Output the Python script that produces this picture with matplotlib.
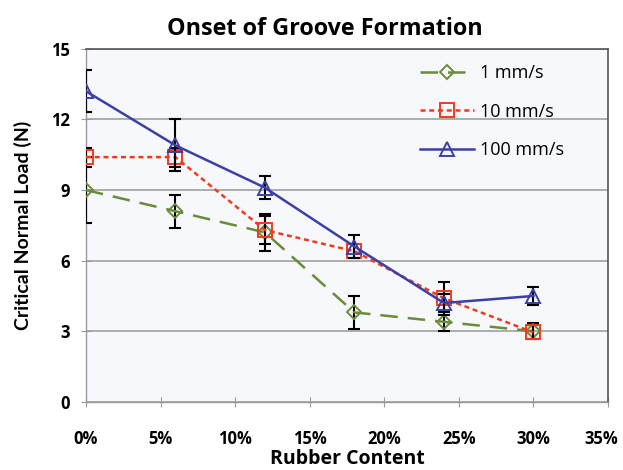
import matplotlib.pyplot as plt
import matplotlib.transforms as mtransforms
from matplotlib.ticker import FuncFormatter

plt.rcParams['font.family'] = ['Open Sans', 'DejaVu Sans']

# Rubber content (%)
rubber = [0, 6, 12, 18, 24, 30]

# Critical normal load (N) at each scratch speed, with error bar half-widths
load_1 = [9.0, 8.1, 7.2, 3.8, 3.4, 3.0]
err_1 = [1.4, 0.7, 0.8, 0.7, 0.4, 0.35]
load_10 = [10.4, 10.4, 7.3, 6.4, 4.4, 2.95]
err_10 = [0.4, 0.4, 0.6, 0.3, 0.7, 0.3]
load_100 = [13.2, 10.9, 9.1, 6.6, 4.2, 4.5]
err_100 = [0.9, 1.1, 0.5, 0.5, 0.4, 0.4]

series = [
    (load_1, err_1, '1 mm/s', '#6a8c3a', (0, (7, 4)), 'D', 7),
    (load_10, err_10, '10 mm/s', '#f03a1e', (0, (2, 1.5)), 's', 10),
    (load_100, err_100, '100 mm/s', '#3b3fa6', '-', '^', 10),
]

fig = plt.figure(figsize=(6.23, 4.70), dpi=100)
ax = fig.add_axes([0.138, 0.145, 0.838, 0.751])
ax.set_facecolor('#f6f8fc')

for i, (y, e, name, col, ls, mk, ms) in enumerate(series):
    ax.errorbar(rubber, y, yerr=e, fmt='none', ecolor='black', elinewidth=1.5,
                capsize=4, capthick=1.5, zorder=3 + i)
    ax.plot(rubber, y, color=col, ls=ls, lw=1.8, marker=mk, ms=ms, mfc='none',
            mew=1.4, label=name, zorder=3 + i)

ax.set_xlim(0, 35)
ax.set_ylim(0, 15)
ax.set_xticks(range(0, 36, 5))
ax.set_yticks(range(0, 16, 3))
ax.xaxis.set_major_formatter(FuncFormatter(lambda v, p: f'{int(v)}%'))
ax.yaxis.grid(True, color='#a0a0a0', lw=1.2)
ax.set_axisbelow(True)

for side in ['top', 'right']:
    ax.spines[side].set_color('#555555')
    ax.spines[side].set_linewidth(1.2)
for side in ['left', 'bottom']:
    ax.spines[side].set_color('#999999')
    ax.spines[side].set_linewidth(1.0)
ax.tick_params(direction='inout', length=7, color='#999999', labelsize=12)
ax.tick_params(axis='x', pad=17)
ax.tick_params(axis='y', pad=8)
for lbl in ax.get_xticklabels() + ax.get_yticklabels():
    lbl.set_fontweight('bold')

# keep the last percent label inside the figure edge
last = ax.xaxis.get_major_ticks()[-1].label1
last.set_transform(last.get_transform() +
                   mtransforms.ScaledTranslation(-5 / 72, 0, fig.dpi_scale_trans))

ax.set_title('Onset of Groove Formation', fontsize=16.8, fontweight='bold',
             pad=10, x=0.458)
ax.set_xlabel('Rubber Content', fontsize=14, fontweight='bold', va='baseline')
ax.xaxis.set_label_coords(0.5, -0.175)
ax.set_ylabel('Critical Normal Load (N)', fontsize=14, fontweight='bold',
              family=['Lato', 'DejaVu Sans'])
ax.yaxis.set_label_coords(-0.103, 0.5)

ax.legend(loc='upper left', bbox_to_anchor=(0.64, 0.957), frameon=False,
          fontsize=13, labelspacing=1.14, handlelength=3.0, handletextpad=0.3,
          borderpad=0, borderaxespad=0)

fig.savefig('out.png', dpi=100)
